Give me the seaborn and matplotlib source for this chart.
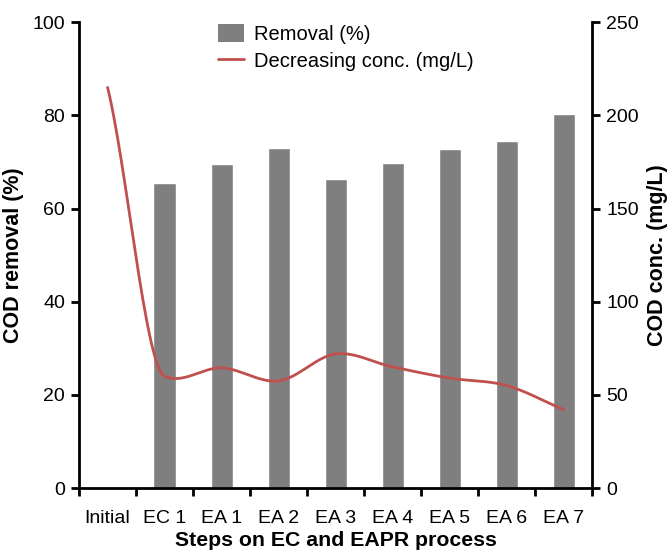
import numpy as np
import pandas as pd
import matplotlib
matplotlib.use("Agg")
import matplotlib.pyplot as plt
import seaborn as sns
from matplotlib.patches import Patch
from matplotlib.lines import Line2D

steps = ["Initial", "EC 1", "EA 1", "EA 2", "EA 3", "EA 4", "EA 5", "EA 6", "EA 7"]
removal = [0, 65.5, 69.6, 73.0, 66.4, 69.7, 72.8, 74.6, 80.2]
conc = [215, 60.0, 64.5, 57.5, 72.0, 65.0, 59.0, 55.0, 42.0]

sns.set_style("ticks")
plt.rcParams['font.family'] = ['Liberation Sans', 'DejaVu Sans']
plt.rcParams['text.color'] = 'black'
plt.rcParams['axes.labelcolor'] = 'black'
plt.rcParams['xtick.color'] = 'black'
plt.rcParams['ytick.color'] = 'black'

df = pd.DataFrame({"step": steps, "removal": removal, "conc": conc})

fig = plt.figure(figsize=(6.7, 5.54), dpi=100)
ax = fig.add_axes([0.118, 0.119, 0.766, 0.841])

sns.barplot(data=df, x="step", y="removal", order=steps, color="#7f7f7f",
            saturation=1, width=0.39, ax=ax)
ax.set_ylim(0, 100)
ax.set_xlim(-0.5, len(steps) - 0.5)

# smoothed line through the points (Hermite spline, slopes limited to avoid overshoot)
xs = np.arange(len(steps), dtype=float)
ys = np.array(conc, dtype=float)
d = np.diff(ys)
slope = np.zeros_like(ys)
slope[1:-1] = 0.5 * (d[:-1] + d[1:])
lim = 3 * np.minimum(np.abs(d[:-1]), np.abs(d[1:]))
slope[1:-1] = np.clip(slope[1:-1], -lim, lim)
slope[0] = d[0] * 0.8
slope[-1] = d[-1] * 1.0
t = np.linspace(0, 1, 30)
h00 = 2 * t ** 3 - 3 * t ** 2 + 1
h10 = t ** 3 - 2 * t ** 2 + t
h01 = -2 * t ** 3 + 3 * t ** 2
h11 = t ** 3 - t ** 2
sx, sy = [], []
for i in range(len(xs) - 1):
    sx.extend(xs[i] + t)
    sy.extend(h00 * ys[i] + h10 * slope[i] + h01 * ys[i + 1] + h11 * slope[i + 1])

ax2 = ax.twinx()
sns.lineplot(x=sx, y=sy, color="#c0504d", linewidth=2, sort=False, ax=ax2)
ax2.set_ylim(0, 250)
ax2.set_yticks([0, 50, 100, 150, 200, 250])

# ticks between categories, labels at the centres
ax.set_xticks(np.arange(-0.5, len(steps), 1.0))
ax.set_xticklabels([])
ax.set_xticks(xs, minor=True)
ax.set_xticklabels(steps, minor=True, fontsize=14)
ax.tick_params(axis="x", which="minor", length=0, pad=16)
ax.tick_params(axis="x", which="major", length=6, width=2, direction="out")
ax.tick_params(axis="y", length=6, width=2, labelsize=14, pad=4)
ax2.tick_params(axis="y", length=6, width=2, labelsize=14, pad=4)

for a in (ax, ax2):
    for s in a.spines.values():
        s.set_linewidth(2)
        s.set_color("black")
    a.spines["top"].set_visible(False)
ax.spines["right"].set_visible(False)
ax2.spines["left"].set_visible(False)
ax2.spines["bottom"].set_visible(False)

ax.set_xlabel("Steps on EC and EAPR process", fontsize=15.3, fontweight="bold", labelpad=3)
ax.set_ylabel("COD removal (%)", fontsize=15.5, fontweight="bold", labelpad=6)
ax2.set_ylabel("COD conc. (mg/L)", fontsize=15.5, fontweight="bold", labelpad=6)

handles = [Patch(facecolor="#7f7f7f", edgecolor="none"),
           Line2D([0], [0], color="#c0504d", linewidth=2)]
ax.legend(handles, ["Removal (%)", "Decreasing conc. (mg/L)"], loc="upper left",
          bbox_to_anchor=(0.235, 1.035), frameon=False, fontsize=14.5,
          handlelength=1.3, handleheight=1.0, handletextpad=0.5, labelspacing=0.35)

fig.savefig("out.png", dpi=100)
